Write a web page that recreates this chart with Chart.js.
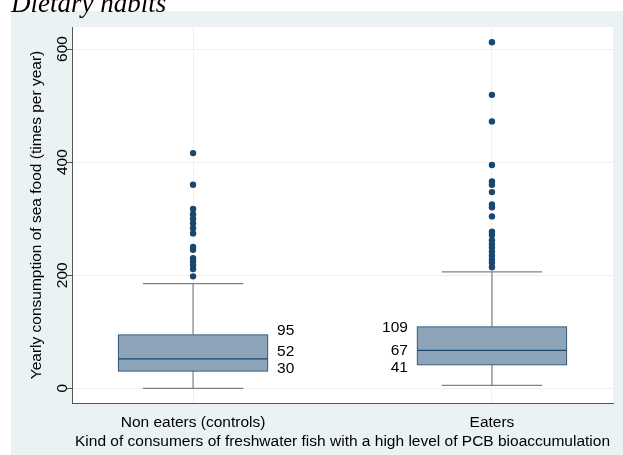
<!DOCTYPE html>
<html>
<head>
<meta charset="utf-8">
<script src="https://cdn.jsdelivr.net/npm/chart.js@4.4.0/dist/chart.umd.min.js"></script>
<style>
body { margin: 0; background: #fff; overflow: hidden; }
#wrap { position: relative; width: 623px; height: 455px; }
#chart { position: absolute; left: 0; top: 0; }
#title { position: absolute; left: 11px; top: -10px; font: italic 27px "Liberation Serif", "Times New Roman", serif; line-height: 1; color: #000; white-space: nowrap; }
</style>
</head>
<body>
<div id="wrap">
<canvas id="chart" width="623" height="455"></canvas>
<div id="title">Dietary habits</div>
</div>
<script>
var categories = ['Non eaters (controls)', 'Eaters'];
var lowerWhisker = [0, 5];
var q1 = [30, 41];
var median = [52, 67];
var q3 = [95, 109];
var upperWhisker = [185, 206];
var outliersNonEaters = [416, 360, 317, 308, 300, 292, 283, 274, 250, 245, 230, 224, 218, 211, 198];
var outliersEaters = [612, 519, 472, 395, 366, 360, 347, 325, 320, 304, 277, 271, 262, 255, 249, 242, 235, 228, 222, 214];
var yTicks = [0, 200, 400, 600];

var navy = '#1a476f';
var capHalf = 0.168;

// whisker segments, split by null points
var whiskerPts = [];
var medianPts = [];
for (var i = 0; i < categories.length; i++) {
    var c = i + 1;
    whiskerPts.push({x: c, y: q3[i]}, {x: c, y: upperWhisker[i]}, {x: c, y: null});
    whiskerPts.push({x: c - capHalf, y: upperWhisker[i]}, {x: c + capHalf, y: upperWhisker[i]}, {x: c, y: null});
    whiskerPts.push({x: c, y: q1[i]}, {x: c, y: lowerWhisker[i]}, {x: c, y: null});
    whiskerPts.push({x: c - capHalf, y: lowerWhisker[i]}, {x: c + capHalf, y: lowerWhisker[i]}, {x: c, y: null});
    medianPts.push({x: c - 0.25, y: median[i]}, {x: c + 0.25, y: median[i]}, {x: c, y: null});
}
var outlierPts = [];
outliersNonEaters.forEach(function (v) { outlierPts.push({x: 1, y: v}); });
outliersEaters.forEach(function (v) { outlierPts.push({x: 2, y: v}); });

var panelBg = {
    id: 'panelBg',
    beforeDraw: function (chart) {
        var ctx = chart.ctx, a = chart.chartArea;
        ctx.save();
        ctx.fillStyle = '#ffffff';
        ctx.fillRect(0, 0, chart.width, chart.height);
        ctx.fillStyle = '#eaf2f3';
        ctx.fillRect(11, 11, chart.width - 11, chart.height - 11);
        ctx.fillStyle = '#ffffff';
        ctx.fillRect(a.left, a.top, a.right - a.left, a.bottom - a.top);
        ctx.restore();
    }
};

var boxLabels = {
    id: 'boxLabels',
    afterDatasetsDraw: function (chart) {
        var ctx = chart.ctx, xs = chart.scales.x, ys = chart.scales.y;
        var shift = [[-4, -7, -3], [1, 0, 3]];
        ctx.save();
        ctx.font = '15.5px "Liberation Sans", Arial, sans-serif';
        ctx.fillStyle = '#000';
        ctx.textBaseline = 'middle';
        for (var i = 0; i < categories.length; i++) {
            var vals = [q3[i], median[i], q1[i]];
            var px = xs.getPixelForValue(i + 1) + (i === 0 ? 84 : -84);
            ctx.textAlign = i === 0 ? 'left' : 'right';
            for (var j = 0; j < vals.length; j++) {
                ctx.fillText(String(vals[j]), px, ys.getPixelForValue(vals[j]) + shift[i][j]);
            }
        }
        ctx.restore();
    }
};

Chart.defaults.font.family = '"Liberation Sans", Arial, sans-serif';
Chart.defaults.font.size = 15.5;
Chart.defaults.color = '#000';

new Chart(document.getElementById('chart'), {
    type: 'bar',
    data: {
        datasets: [{
            type: 'line',
            data: whiskerPts,
            borderColor: '#828282',
            borderWidth: 1.2,
            pointRadius: 0,
            spanGaps: false,
            order: 3
        }, {
            type: 'bar',
            data: [{x: 1, y: [q1[0], q3[0]]}, {x: 2, y: [q1[1], q3[1]]}],
            backgroundColor: '#8ea4b8',
            borderColor: navy,
            borderWidth: 1,
            borderSkipped: false,
            barThickness: 150,
            order: 2
        }, {
            type: 'line',
            data: medianPts,
            borderColor: navy,
            borderWidth: 1.3,
            pointRadius: 0,
            spanGaps: false,
            order: 1
        }, {
            type: 'scatter',
            data: outlierPts,
            backgroundColor: navy,
            borderWidth: 0,
            pointRadius: 3.2,
            order: 0
        }]
    },
    options: {
        responsive: false,
        animation: false,
        layout: {padding: {top: 27, right: 10, left: 0, bottom: 0}},
        plugins: {legend: {display: false}, tooltip: {enabled: false}},
        scales: {
            x: {
                type: 'linear',
                offset: false,
                min: 0.595,
                max: 2.405,
                afterBuildTicks: function (s) { s.ticks = [{value: 1}, {value: 2}]; },
                afterFit: function (s) { s.height = 52; },
                ticks: {
                    padding: 10,
                    callback: function (v) { return categories[v - 1]; }
                },
                grid: {color: '#eaf2f3', drawTicks: false, offset: false},
                border: {color: '#555', width: 1},
                title: {
                    display: true,
                    text: 'Kind of consumers of freshwater fish with a high level of PCB bioaccumulation',
                    padding: {top: 0, bottom: 4}
                }
            },
            y: {
                min: -26,
                max: 639,
                afterBuildTicks: function (s) { s.ticks = yTicks.map(function (v) { return {value: v}; }); },
                afterFit: function (s) { s.width = 72; },
                ticks: {minRotation: 90, maxRotation: 90, crossAlign: 'center', padding: -10},
                grid: {color: '#eaf2f3', tickColor: '#555', tickLength: 6},
                border: {color: '#555', width: 1},
                title: {
                    display: true,
                    text: 'Yearly consumption of sea food (times per year)',
                    padding: {top: 27, bottom: 0}
                }
            }
        }
    },
    plugins: [panelBg, boxLabels]
});
</script>
</body>
</html>
